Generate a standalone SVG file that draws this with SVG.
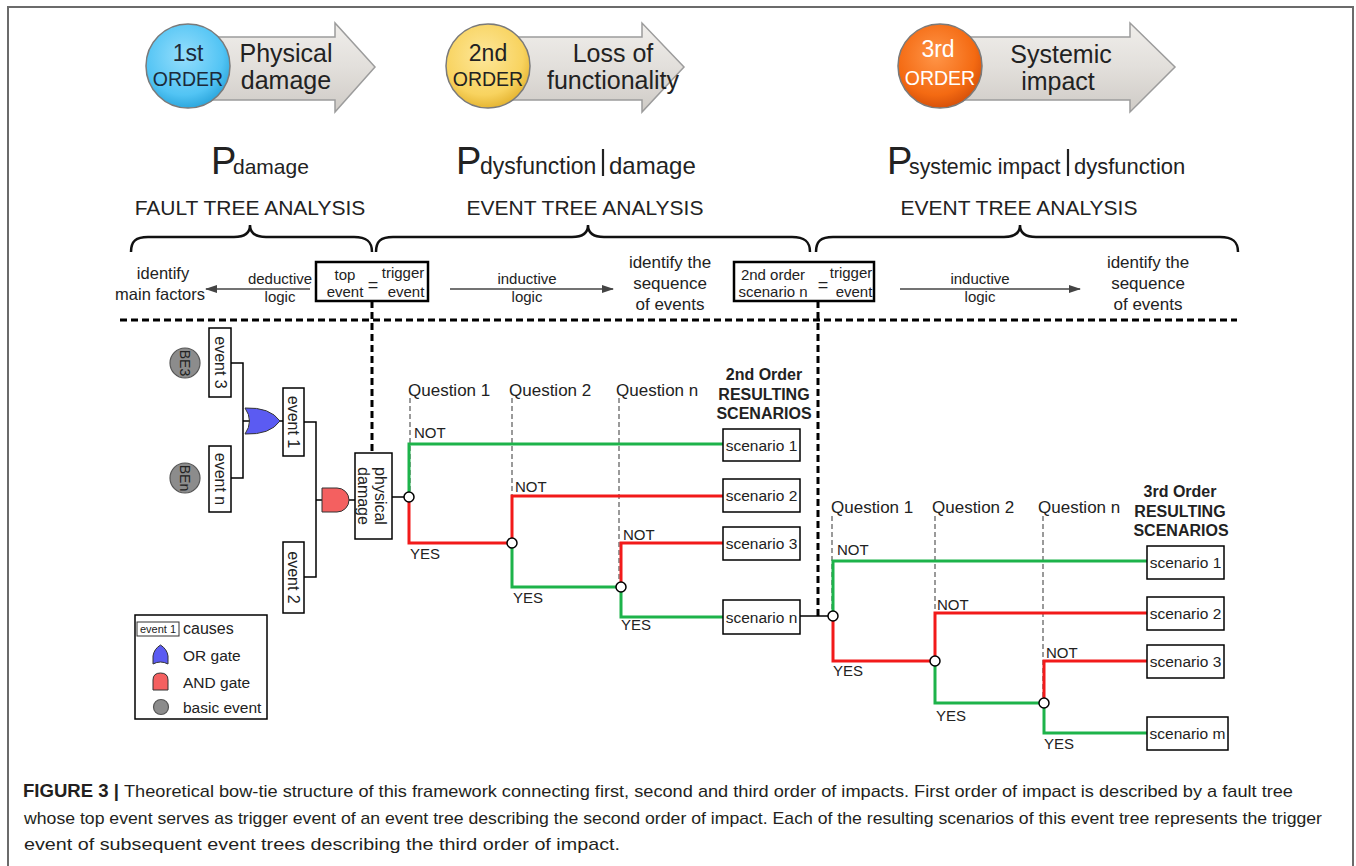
<svg xmlns="http://www.w3.org/2000/svg" width="1356" height="866" viewBox="0 0 1356 866">
<defs>
<style>
.t{font-family:"Liberation Sans",Arial,Helvetica,sans-serif;fill:#222}
.c{text-anchor:middle}
.b{font-weight:bold}
.box{fill:#fff;stroke:#000;stroke-width:1.5}
.tbox{fill:#fff;stroke:#000;stroke-width:2.5}
.g{stroke:#1db34a;stroke-width:3;fill:none}
.r{stroke:#f21a1a;stroke-width:3;fill:none}
.q{stroke:#9a9a9a;stroke-width:2;stroke-dasharray:5 3;fill:none}
.node{fill:#fff;stroke:#000;stroke-width:1.5}
.ln{stroke:#000;stroke-width:1.5;fill:none}
.dash{stroke:#000;stroke-width:3;stroke-dasharray:7 4;fill:none}
.brace{stroke:#111;stroke-width:2.5;fill:none}
.bar{stroke:#222;stroke-width:2.2;fill:none}
.arr{stroke:#444;stroke-width:1.5;fill:none;marker-end:url(#ah)}
.hdr{fill:url(#ag);stroke:#9c9c9c;stroke-width:1.5}
.be{fill:#8c8c8c;stroke:#555;stroke-width:1.2}
.orG{fill:#5b5bf2;stroke:#333;stroke-width:1}
.andG{fill:#f46060;stroke:#333;stroke-width:1}
.cap{fill:#231f20}
</style>
<marker id="ah" viewBox="0 0 12 8" refX="11" refY="4" markerWidth="12" markerHeight="8" markerUnits="userSpaceOnUse" orient="auto">
<path d="M0,0 L12,4 L0,8 Z" fill="#444"/>
</marker>
<linearGradient id="ag" x1="0" y1="0" x2="0" y2="1">
<stop offset="0" stop-color="#f0eeeb"/><stop offset="0.5" stop-color="#e2dfdb"/><stop offset="1" stop-color="#cfcbc6"/>
</linearGradient>
<radialGradient id="cb" cx="45%" cy="38%" r="62%">
<stop offset="0" stop-color="#95defc"/><stop offset="0.75" stop-color="#52c4f4"/><stop offset="1" stop-color="#2ea8de"/>
</radialGradient>
<radialGradient id="cy" cx="45%" cy="38%" r="62%">
<stop offset="0" stop-color="#fde79a"/><stop offset="0.75" stop-color="#f8d35f"/><stop offset="1" stop-color="#e6b634"/>
</radialGradient>
<radialGradient id="co" cx="45%" cy="38%" r="62%">
<stop offset="0" stop-color="#ff9548"/><stop offset="0.75" stop-color="#f46a12"/><stop offset="1" stop-color="#d8520a"/>
</radialGradient>
</defs>

<rect x="0" y="0" width="1356" height="866" fill="#fff"/>
<path d="M8,870 V7 H1353 V870" fill="none" stroke="#6b6b6b" stroke-width="2"/>

<!-- header -->
<g id="order1">
<path class="hdr" d="M200,37 H335 V23 L375,67 L335,112 V100 H200 Z"/>
<circle cx="188" cy="66" r="42" fill="url(#cb)" stroke="#7a7a7a" stroke-width="1.5"/>
<text class="t c" x="188" y="61" font-size="23" style="fill:#1c2a3a">1st</text>
<text class="t c" x="188" y="86" font-size="19.5" style="fill:#1c2a3a">ORDER</text>
<text class="t c" x="286" y="62" font-size="25">Physical</text>
<text class="t c" x="286" y="89" font-size="25">damage</text>
</g>
<g id="order2">
<path class="hdr" d="M500,37 H642 V23 L684,67 L642,112 V100 H500 Z"/>
<circle cx="488" cy="66" r="42" fill="url(#cy)" stroke="#7a7a7a" stroke-width="1.5"/>
<text class="t c" x="488" y="61" font-size="23">2nd</text>
<text class="t c" x="488" y="86" font-size="19.5">ORDER</text>
<text class="t c" x="613" y="62" font-size="25">Loss of</text>
<text class="t c" x="613" y="89" font-size="25">functionality</text>
</g>
<g id="order3">
<path class="hdr" d="M950,37 H1130 V23 L1175,67 L1130,112 V100 H950 Z"/>
<circle cx="940" cy="66" r="42" fill="url(#co)" stroke="#7a7a7a" stroke-width="1.5"/>
<text class="t c" x="938" y="57" font-size="23" style="fill:#fff">3rd</text>
<text class="t c" x="940" y="85" font-size="19.5" style="fill:#fff">ORDER</text>
<text class="t c" x="1061" y="63" font-size="25">Systemic</text>
<text class="t c" x="1058" y="90" font-size="25">impact</text>
</g>

<!-- probability headings -->
<g id="heading1">
<text class="t" x="211" y="174" font-size="38">P</text>
<text class="t" x="233" y="174" font-size="21">damage</text>
<text class="t c" x="250" y="215" font-size="21">FAULT TREE ANALYSIS</text>
<path class="brace" d="M131,252 C131,241 136,237 148,237 H234 C244,237 250,233 250,225 C250,233 256,237 266,237 H354 C366,237 372,241 372,252"/>
</g>
<g id="heading2">
<text class="t" x="456" y="174" font-size="38">P</text>
<text class="t" x="480" y="174" font-size="23">dysfunction</text>
<path class="bar" d="M603,149 V176"/>
<text class="t" x="609" y="174" font-size="24">damage</text>
<text class="t c" x="585" y="215" font-size="21">EVENT TREE ANALYSIS</text>
<path class="brace" d="M376,252 C376,241 381,237 393,237 H572 C582,237 588,233 588,225 C588,233 594,237 604,237 H792 C804,237 810,241 810,252"/>
</g>
<g id="heading3">
<text class="t" x="887" y="174" font-size="38">P</text>
<text class="t" x="909" y="174" font-size="21.3">systemic impact</text>
<path class="bar" d="M1068,149 V176"/>
<text class="t" x="1074" y="174" font-size="22">dysfunction</text>
<text class="t c" x="1019" y="215" font-size="21">EVENT TREE ANALYSIS</text>
<path class="brace" d="M816,252 C816,241 821,237 833,237 H1004 C1014,237 1020,233 1020,225 C1020,233 1026,237 1036,237 H1220 C1232,237 1238,241 1238,252"/>
</g>

<!-- logic row -->
<g id="logic-row">
<text class="t c" x="163" y="279" font-size="16.5">identify</text>
<text class="t c" x="160" y="300" font-size="16.5">main factors</text>
<text class="t c" x="280" y="284" font-size="15">deductive</text>
<text class="t c" x="280" y="302" font-size="15">logic</text>
<text class="t c" x="527" y="284" font-size="15">inductive</text>
<text class="t c" x="527" y="302" font-size="15">logic</text>
<text class="t c" x="670" y="268" font-size="17">identify the</text>
<text class="t c" x="670" y="289" font-size="17">sequence</text>
<text class="t c" x="670" y="310" font-size="17">of events</text>
<text class="t c" x="980" y="284" font-size="15">inductive</text>
<text class="t c" x="980" y="302" font-size="15">logic</text>
<text class="t c" x="1148" y="268" font-size="17">identify the</text>
<text class="t c" x="1148" y="289" font-size="17">sequence</text>
<text class="t c" x="1148" y="310" font-size="17">of events</text>
</g>
<g id="top-event">
<rect class="tbox" x="316" y="262" width="112" height="39"/>
<text class="t c" x="345" y="280" font-size="15">top</text>
<text class="t c" x="345" y="297" font-size="15">event</text>
<text class="t c" x="373" y="291" font-size="18">=</text>
<text class="t c" x="403" y="278" font-size="15">trigger</text>
<text class="t c" x="406" y="297" font-size="15">event</text>
</g>
<g id="second-order-trigger">
<rect class="tbox" x="734" y="262" width="140" height="39"/>
<text class="t c" x="773" y="280" font-size="15">2nd order</text>
<text class="t c" x="773" y="297" font-size="15">scenario n</text>
<text class="t c" x="823" y="291" font-size="18">=</text>
<text class="t c" x="851" y="278" font-size="15">trigger</text>
<text class="t c" x="854" y="297" font-size="15">event</text>
</g>

<!-- connectors -->
<g id="connectors">
<path class="arr" d="M310,289 H206"/>
<path class="arr" d="M450,289 H613"/>
<path class="arr" d="M900,289 H1080"/>
<path class="dash" d="M120,320 H1237"/>
<path class="dash" d="M372,301 V453"/>
<path class="dash" d="M818,301 V616"/>
<!-- fault tree -->
<path class="ln" d="M231,363 H243 V478 H231"/>
<path class="ln" d="M243,421 H250"/>
<path class="ln" d="M280,421 H283"/>
<path class="ln" d="M304,422 H316 V577 H304"/>
<path class="ln" d="M316,500 H322"/>
<path class="ln" d="M349,500 H355"/>
<path class="ln" d="M392,497 H409" stroke-width="2"/>
<!-- event tree 1 -->
<path class="q" d="M410,398 V497"/>
<path class="q" d="M512,398 V543"/>
<path class="q" d="M619,398 V587"/>
<path class="g" d="M409,497 V444 H723"/>
<path class="r" d="M409,497 V543 H512"/>
<path class="r" d="M512,543 V496 H723"/>
<path class="g" d="M512,543 V587 H621"/>
<path class="r" d="M621,587 V543 H723"/>
<path class="g" d="M621,587 V617 H723"/>
<path class="ln" d="M800,616 H833" stroke-width="2"/>
<!-- event tree 2 -->
<path class="q" d="M832,516 V616"/>
<path class="q" d="M935,516 V661"/>
<path class="q" d="M1043,516 V703"/>
<path class="g" d="M833,616 V561 H1147"/>
<path class="r" d="M833,616 V661 H935"/>
<path class="r" d="M935,661 V613 H1147"/>
<path class="g" d="M935,661 V703 H1044"/>
<path class="r" d="M1044,703 V661 H1147"/>
<path class="g" d="M1044,703 V733 H1147"/>
</g>

<!-- fault tree nodes -->
<g id="be3"><circle class="be" cx="185" cy="363" r="15"/><text class="t c" transform="translate(180,363) rotate(90)" font-size="14">BE3</text></g>
<g id="ben"><circle class="be" cx="185" cy="478" r="15"/><text class="t c" transform="translate(180,478) rotate(90)" font-size="14">BEn</text></g>
<g id="event3"><rect class="box" x="209" y="328" width="22" height="69"/><text class="t c" transform="translate(214.5,362.5) rotate(90)" font-size="16">event 3</text></g>
<g id="eventn"><rect class="box" x="209" y="446" width="22" height="66"/><text class="t c" transform="translate(214.5,479) rotate(90)" font-size="16">event n</text></g>
<g id="or-gate"><path class="orG" d="M245,408 Q270,407 280,421 Q270,435 245,434 Q254,421 245,408 Z"/></g>
<g id="event1"><rect class="box" x="283" y="388" width="21" height="68"/><text class="t c" transform="translate(288,422) rotate(90)" font-size="16">event 1</text></g>
<g id="event2"><rect class="box" x="283" y="542" width="21" height="71"/><text class="t c" transform="translate(288,577.5) rotate(90)" font-size="16">event 2</text></g>
<g id="and-gate"><path class="andG" d="M322,488 H337 A12,12 0 0 1 337,512 H322 Z"/></g>
<g id="physical-damage"><rect class="box" x="355" y="453" width="37" height="86"/>
<text class="t c" transform="translate(375,496) rotate(90)" font-size="16"><tspan x="0" y="0">physical</tspan><tspan x="0" y="17">damage</tspan></text></g>

<!-- event tree 1 labels -->
<g id="et1-labels">
<text class="t" x="408" y="396" font-size="17">Question 1</text>
<text class="t" x="509" y="396" font-size="17">Question 2</text>
<text class="t" x="616" y="396" font-size="17">Question n</text>
<text class="t c b" x="764" y="380" font-size="16">2nd Order</text>
<text class="t c b" x="764" y="400" font-size="16">RESULTING</text>
<text class="t c b" x="764" y="419" font-size="16">SCENARIOS</text>
<text class="t" x="414" y="438" font-size="15">NOT</text>
<text class="t" x="515" y="492" font-size="15">NOT</text>
<text class="t" x="623" y="540" font-size="15">NOT</text>
<text class="t" x="410" y="559" font-size="15">YES</text>
<text class="t" x="513" y="603" font-size="15">YES</text>
<text class="t" x="621" y="630" font-size="15">YES</text>
</g>
<g id="et1-nodes">
<circle class="node" cx="409" cy="497" r="5"/>
<circle class="node" cx="512" cy="543" r="5"/>
<circle class="node" cx="621" cy="587" r="5"/>
</g>
<g id="s2-1"><rect class="box" x="723" y="429" width="77" height="32"/><text class="t c" x="761.5" y="450.5" font-size="15.5">scenario 1</text></g>
<g id="s2-2"><rect class="box" x="723" y="479" width="77" height="33"/><text class="t c" x="761.5" y="501" font-size="15.5">scenario 2</text></g>
<g id="s2-3"><rect class="box" x="723" y="527" width="77" height="33"/><text class="t c" x="761.5" y="549" font-size="15.5">scenario 3</text></g>
<g id="s2-n"><rect class="box" x="723" y="600" width="77" height="34"/><text class="t c" x="761.5" y="622.5" font-size="15.5">scenario n</text></g>

<!-- event tree 2 labels -->
<g id="et2-labels">
<text class="t" x="831" y="513" font-size="17">Question 1</text>
<text class="t" x="932" y="513" font-size="17">Question 2</text>
<text class="t" x="1038" y="513" font-size="17">Question n</text>
<text class="t c b" x="1180" y="497" font-size="16">3rd Order</text>
<text class="t c b" x="1180" y="517" font-size="16">RESULTING</text>
<text class="t c b" x="1181" y="536" font-size="16">SCENARIOS</text>
<text class="t" x="837" y="555" font-size="15">NOT</text>
<text class="t" x="937" y="610" font-size="15">NOT</text>
<text class="t" x="1046" y="658" font-size="15">NOT</text>
<text class="t" x="833" y="676" font-size="15">YES</text>
<text class="t" x="936" y="721" font-size="15">YES</text>
<text class="t" x="1044" y="749" font-size="15">YES</text>
</g>
<g id="et2-nodes">
<circle class="node" cx="833" cy="616" r="5"/>
<circle class="node" cx="935" cy="661" r="5"/>
<circle class="node" cx="1044" cy="703" r="5"/>
</g>
<g id="s3-1"><rect class="box" x="1147" y="546" width="77" height="33"/><text class="t c" x="1185.5" y="568" font-size="15.5">scenario 1</text></g>
<g id="s3-2"><rect class="box" x="1147" y="597" width="77" height="33"/><text class="t c" x="1185.5" y="619" font-size="15.5">scenario 2</text></g>
<g id="s3-3"><rect class="box" x="1147" y="645" width="77" height="33"/><text class="t c" x="1185.5" y="667" font-size="15.5">scenario 3</text></g>
<g id="s3-m"><rect class="box" x="1147" y="717" width="81" height="33"/><text class="t c" x="1187.5" y="739" font-size="15.5">scenario m</text></g>

<!-- legend -->
<g id="legend">
<rect class="box" x="135" y="615" width="132" height="104"/>
<rect x="137" y="622" width="42" height="14" fill="#fff" stroke="#333" stroke-width="1"/>
<text class="t c" x="158" y="633" font-size="11">event 1</text>
<text class="t" x="183" y="634" font-size="16">causes</text>
<path class="orG" d="M153,664 L153,656 Q154,649 160.5,645 Q167,649 168,656 L168,664 Q160.5,660 153,664 Z"/>
<text class="t" x="183" y="661" font-size="15.5">OR gate</text>
<path class="andG" d="M153,690 V680 Q153,673 160.5,673 Q168,673 168,680 V690 Z"/>
<text class="t" x="183" y="688" font-size="15.5">AND gate</text>
<circle class="be" cx="161" cy="707" r="7.5"/>
<text class="t" x="183" y="713" font-size="15.5">basic event</text>
</g>

<!-- caption -->
<g id="caption">
<text class="t b cap" x="23" y="797" font-size="17.5" textLength="96" lengthAdjust="spacingAndGlyphs">FIGURE 3 |</text>
<text class="t cap" x="124" y="797" font-size="17" textLength="1169" lengthAdjust="spacingAndGlyphs">Theoretical bow-tie structure of this framework connecting first, second and third order of impacts. First order of impact is described by a fault tree</text>
<text class="t cap" x="24" y="823.5" font-size="17" textLength="1298" lengthAdjust="spacingAndGlyphs">whose top event serves as trigger event of an event tree describing the second order of impact. Each of the resulting scenarios of this event tree represents the trigger</text>
<text class="t cap" x="24" y="850" font-size="17" textLength="596" lengthAdjust="spacingAndGlyphs">event of subsequent event trees describing the third order of impact.</text>
</g>
</svg>
